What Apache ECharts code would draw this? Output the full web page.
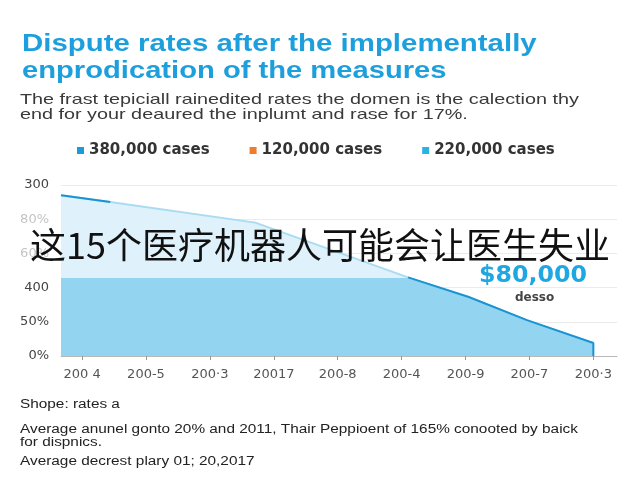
<!DOCTYPE html>
<html>
<head>
<meta charset="utf-8">
<script src="https://cdn.jsdelivr.net/npm/echarts@6/dist/echarts.min.js"></script>
<style type="text/css">
    html, body { margin: 0; padding: 0; background: #ffffff; }
    #ECharts { width: 640px; height: 480px; }
</style>
</head>
<body>
<div id="ECharts"></div>
<script type="text/javascript">
    // labels along the axes
    var xLabels = ['200 4', '200-5', '200·3', '20017', '200-8', '200-4', '200-9', '200-7', '200·3'];
    var yLabels = ['0%', '50%', '400', '60%', '80%', '300'];
    var yFaded = [false, false, false, true, true, false];
    var legendNames = ['380,000 cases', '120,000 cases', '220,000 cases'];

    // [position on x (tick units), value]
    var upperLine = [[-0.33, 94], [0.44, 90], [2.71, 78], [5.1, 46], [6.05, 34.5], [6.96, 21], [8, 7.6]];
    var lowerArea = [[-0.33, 45.6], [5.1, 45.6], [6.05, 34.5], [6.96, 21], [8, 7.6], [8, 0]];
    var darkStart = [[-0.33, 94], [0.44, 90]];
    var darkEnd = [[5.1, 46], [6.05, 34.5], [6.96, 21], [8, 7.6], [8, 0]];
    var tickPos = [0, 1, 2, 3, 4, 5, 6, 7, 8];

    // the source picture is stretched sideways, so texts get a scaleX
    function label(txt, x, y, font, color, sx, z) {
        return {
            type: 'text', x: x, y: y, scaleX: sx || 1, z: z || 10,
            style: { text: txt, x: 0, y: 0, verticalAlign: 'middle', font: font, fill: color }
        };
    }

    var myChart = echarts.init(document.getElementById('ECharts'));
    var option = {
        animation: false,
        grid: { left: 61, right: 23, top: 185, bottom: 124 },
        legend: {
            top: 138,
            left: 72,
            icon: 'rect',
            itemWidth: 7,
            itemHeight: 7,
            itemGap: 40,
            textStyle: { fontFamily: 'DejaVu Sans', fontWeight: 'bold', fontSize: 15, color: '#333' },
            data: legendNames
        },
        xAxis: {
            type: 'value',
            min: -0.33,
            max: 8.37,
            splitLine: { show: false },
            axisLine: { lineStyle: { color: '#b8b8b8' } },
            axisTick: { show: true, length: 4, customValues: tickPos, lineStyle: { color: '#999' } },
            axisLabel: {
                customValues: tickPos,
                margin: 12,
                fontFamily: 'DejaVu Sans',
                fontSize: 13,
                color: '#555',
                formatter: function (v) { return xLabels[Math.round(v)]; }
            }
        },
        yAxis: {
            type: 'value',
            min: 0,
            max: 100,
            interval: 20,
            axisLine: { show: false },
            axisTick: { show: false },
            splitLine: { lineStyle: { color: '#ebebeb' } },
            axisLabel: {
                margin: 12,
                formatter: function (v) {
                    var i = Math.round(v / 20);
                    return (yFaded[i] ? '{l|' : '{d|') + yLabels[i] + '}';
                },
                rich: {
                    d: { fontFamily: 'DejaVu Sans', fontSize: 13, color: '#444' },
                    l: { fontFamily: 'DejaVu Sans', fontSize: 13, color: '#c4c4c4' }
                }
            }
        },
        series: [{
            name: '220,000 cases',
            type: 'line',
            data: upperLine,
            symbol: 'none',
            itemStyle: { color: '#29b3e3' },
            lineStyle: { color: '#a9dcf2', width: 2 },
            areaStyle: { color: '#dff1fa', opacity: 1 }
        }, {
            name: '380,000 cases',
            type: 'line',
            data: lowerArea,
            symbol: 'none',
            itemStyle: { color: '#1e9ad8' },
            lineStyle: { width: 0 },
            areaStyle: { color: '#93d5f0', opacity: 1 }
        }, {
            name: '120,000 cases',
            type: 'line',
            data: [],
            itemStyle: { color: '#ef7d2c' }
        }, {
            type: 'line',
            data: darkStart,
            symbol: 'none',
            lineStyle: { color: '#1a93d2', width: 2 }
        }, {
            type: 'line',
            data: darkEnd,
            symbol: 'none',
            lineStyle: { color: '#1a93d2', width: 2 }
        }],
        graphic: [
            label('Dispute rates after the implementally', 22, 44, 'bold 24px "Liberation Sans"', '#1c9fdc', 1.225),
            label('enprodication of the measures', 22, 71, 'bold 24px "Liberation Sans"', '#1c9fdc', 1.215),
            label('The frast tepiciall rainedited rates the domen is the calection thy', 20, 100, '14.5px "Liberation Sans"', '#3a3a3a', 1.365),
            label('end for your deaured the inplumt and rase for 17%.', 20, 114.5, '14.5px "Liberation Sans"', '#3a3a3a', 1.365),
            label('$80,000', 479, 276, 'bold 23px "DejaVu Sans"', '#1ea7e0', 1.03),
            label('desso', 515, 298, 'bold 12px "DejaVu Sans"', '#444', 1),
            label('这15个医疗机器人可能会让医生失业', 30, 245, '36px "Noto Sans CJK SC"', '#111', 1, 100),
            label('Shope: rates a', 20, 405, '12px "Liberation Sans"', '#222', 1.28),
            label('Average anunel gonto 20% and 2011, Thair Peppioent of 165% conooted by baick', 20, 430, '12px "Liberation Sans"', '#222', 1.28),
            label('for dispnics.', 20, 443, '12px "Liberation Sans"', '#222', 1.28),
            label('Average decrest plary 01; 20,2017', 20, 462, '12px "Liberation Sans"', '#222', 1.28)
        ]
    };
    myChart.setOption(option);
</script>
</body>
</html>
